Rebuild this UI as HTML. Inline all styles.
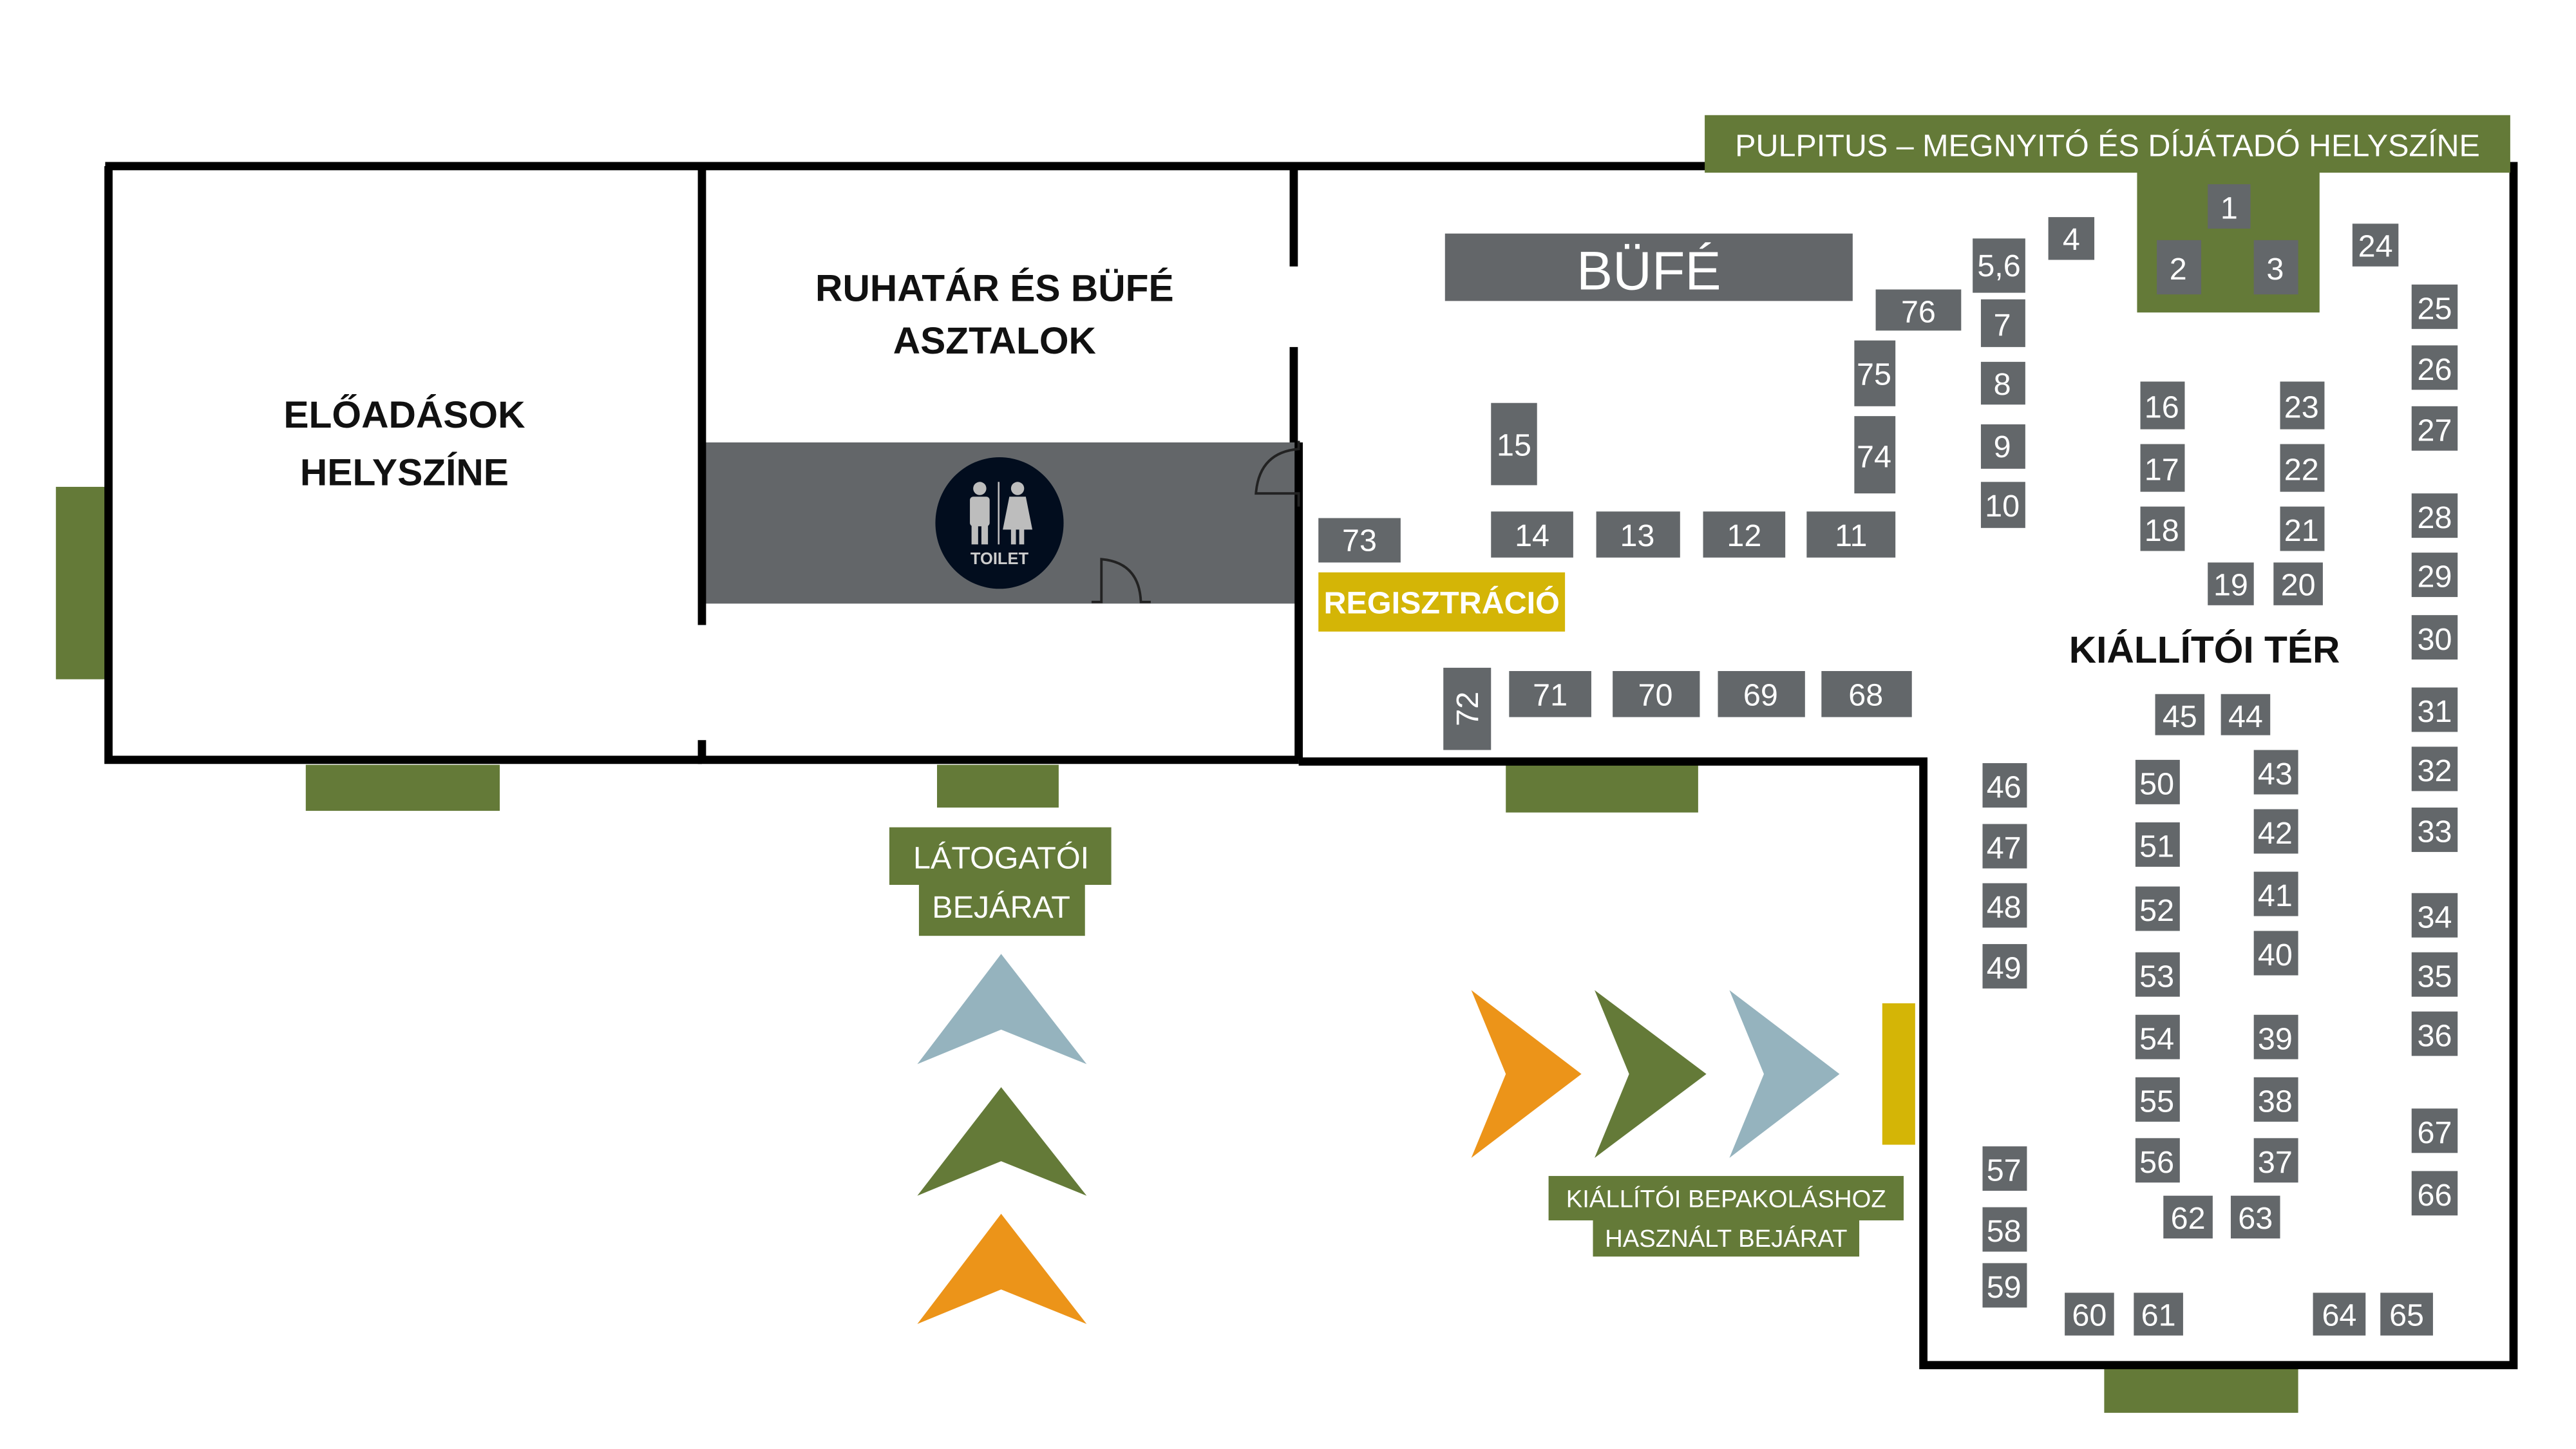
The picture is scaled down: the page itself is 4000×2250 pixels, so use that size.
<!DOCTYPE html>
<html><head><meta charset="utf-8"><style>
html,body{margin:0;padding:0;background:#fff;}
svg{display:block}
text{font-family:"Liberation Sans",sans-serif;}
</style></head><body>
<svg width="4000" height="2250" viewBox="0 0 1567 881" preserveAspectRatio="none" xmlns="http://www.w3.org/2000/svg">
<rect width="1567" height="881" fill="#fff"/>
<g fill="#647a38">
<rect x="34" y="296" width="30" height="117"/>
<rect x="186" y="465" width="118" height="28"/>
<rect x="570" y="465" width="74" height="26"/>
<rect x="916" y="465" width="117" height="29"/>
<rect x="1280" y="832" width="118" height="27"/>
</g>
<rect x="1145" y="610" width="20" height="86" fill="#d4b506"/>
<rect x="428" y="269" width="362" height="98" fill="#636669"/>
<g stroke="#000" stroke-width="5" fill="none">
<path d="M64 101 H1529 V830 H1170 V463 H790"/>
<path d="M66 101 V462 H427"/>
<path d="M427 101 V380 M427 450 V462 H790"/>
<path d="M787 101 V162 M787 211 V269 M790 269 V462"/>
</g>
<g stroke="#222" stroke-width="1.5" fill="none">
<path d="M790 268 V273 Q766 275 764 300 H790 V308"/>
<path d="M664 366 H670 V340 Q693 342 694 366 H700"/>
</g>
<ellipse cx="608" cy="318" rx="39" ry="40" fill="#020d1e"/>
<g fill="#bdbdbd">
<circle cx="596" cy="297" r="4"/>
<rect x="590" y="302" width="12" height="18" rx="2"/>
<rect x="591" y="318" width="4" height="13"/><rect x="597" y="318" width="4" height="13"/>
<circle cx="619" cy="297" r="4"/>
<path d="M614 302 H624 L628 322 H610 Z"/>
<rect x="615" y="321" width="3" height="10"/><rect x="620" y="321" width="3" height="10"/>
<rect x="607" y="293" width="1" height="38"/>
</g>
<text x="608" y="343" font-size="10" font-weight="bold" fill="#ccc" text-anchor="middle">TOILET</text>
<g font-weight="bold" font-size="23" text-anchor="middle" fill="#111">
<text x="246" y="260">ELŐADÁSOK</text>
<text x="246" y="295">HELYSZÍNE</text>
<text x="605" y="183">RUHATÁR ÉS BÜFÉ</text>
<text x="605" y="215">ASZTALOK</text>
<text x="1341" y="403">KIÁLLÍTÓI TÉR</text>
</g>
<rect x="1037" y="70" width="490" height="35" fill="#647a38"/>
<rect x="1300" y="104" width="111" height="86" fill="#647a38"/>
<text x="1282" y="95" font-size="19" fill="#fff" text-anchor="middle">PULPITUS – MEGNYITÓ ÉS DÍJÁTADÓ HELYSZÍNE</text>
<rect x="879" y="142" width="248" height="41" fill="#636669"/>
<text x="1003" y="176" font-size="33" fill="#fff" text-anchor="middle">BÜFÉ</text>
<rect x="802" y="348" width="150" height="36" fill="#d4b506"/>
<text x="877" y="373" font-size="19" font-weight="bold" fill="#fff" text-anchor="middle">REGISZTRÁCIÓ</text>
<g fill="#63676a">
<rect x="1343" y="112" width="26" height="27"/><rect x="1312" y="146" width="27" height="33"/><rect x="1371" y="146" width="27" height="33"/>
<rect x="1246" y="132" width="28" height="26"/><rect x="1200" y="145" width="32" height="33"/><rect x="1431" y="136" width="28" height="26"/>
<rect x="1141" y="176" width="52" height="25"/><rect x="1205" y="182" width="27" height="29"/><rect x="1205" y="220" width="27" height="26"/>
<rect x="1205" y="258" width="27" height="27"/><rect x="1205" y="293" width="27" height="28"/>
<rect x="1128" y="207" width="25" height="40"/><rect x="1128" y="253" width="25" height="47"/>
<rect x="907" y="245" width="28" height="50"/><rect x="907" y="311" width="50" height="28"/><rect x="971" y="311" width="51" height="28"/>
<rect x="1036" y="311" width="50" height="28"/><rect x="1099" y="311" width="54" height="28"/><rect x="802" y="315" width="50" height="27"/>
<rect x="878" y="406" width="29" height="50"/><rect x="918" y="408" width="50" height="28"/><rect x="981" y="408" width="53" height="28"/>
<rect x="1045" y="408" width="53" height="28"/><rect x="1108" y="408" width="55" height="28"/>
<rect x="1302" y="232" width="27" height="29"/><rect x="1302" y="270" width="27" height="29"/><rect x="1302" y="308" width="27" height="27"/>
<rect x="1387" y="232" width="27" height="29"/><rect x="1387" y="270" width="27" height="29"/><rect x="1387" y="308" width="27" height="27"/>
<rect x="1343" y="342" width="28" height="26"/><rect x="1383" y="342" width="30" height="26"/>
<rect x="1467" y="173" width="28" height="27"/><rect x="1467" y="210" width="28" height="27"/><rect x="1467" y="247" width="28" height="27"/>
<rect x="1467" y="300" width="28" height="27"/><rect x="1467" y="336" width="28" height="27"/><rect x="1467" y="374" width="28" height="27"/>
<rect x="1467" y="418" width="28" height="27"/><rect x="1467" y="454" width="28" height="27"/><rect x="1467" y="491" width="28" height="27"/>
<rect x="1467" y="543" width="28" height="27"/><rect x="1467" y="579" width="28" height="27"/><rect x="1467" y="615" width="28" height="27"/>
<rect x="1467" y="674" width="28" height="27"/><rect x="1467" y="712" width="28" height="27"/>
<rect x="1311" y="422" width="30" height="25"/><rect x="1351" y="422" width="30" height="25"/>
<rect x="1206" y="464" width="27" height="27"/><rect x="1206" y="501" width="27" height="27"/><rect x="1206" y="537" width="27" height="27"/><rect x="1206" y="574" width="27" height="27"/>
<rect x="1299" y="462" width="27" height="27"/><rect x="1299" y="500" width="27" height="27"/><rect x="1299" y="539" width="27" height="27"/><rect x="1299" y="579" width="27" height="27"/>
<rect x="1299" y="617" width="27" height="27"/><rect x="1299" y="655" width="27" height="27"/><rect x="1299" y="692" width="27" height="27"/>
<rect x="1371" y="456" width="27" height="27"/><rect x="1371" y="492" width="27" height="27"/><rect x="1371" y="530" width="27" height="27"/><rect x="1371" y="566" width="27" height="27"/>
<rect x="1371" y="617" width="27" height="27"/><rect x="1371" y="655" width="27" height="27"/><rect x="1371" y="692" width="27" height="27"/>
<rect x="1206" y="697" width="27" height="27"/><rect x="1206" y="734" width="27" height="27"/><rect x="1206" y="768" width="27" height="27"/>
<rect x="1316" y="727" width="30" height="26"/><rect x="1357" y="727" width="30" height="26"/>
<rect x="1256" y="786" width="30" height="26"/><rect x="1298" y="786" width="30" height="26"/><rect x="1407" y="786" width="32" height="26"/><rect x="1448" y="786" width="32" height="26"/>
</g>
<g font-size="19" fill="#fff" text-anchor="middle">
<text x="1356" y="133">1</text><text x="1325" y="170">2</text><text x="1384" y="170">3</text>
<text x="1260" y="152">4</text><text x="1216" y="168">5,6</text><text x="1445" y="156">24</text>
<text x="1167" y="196">76</text><text x="1218" y="204">7</text><text x="1218" y="240">8</text>
<text x="1218" y="278">9</text><text x="1218" y="314">10</text>
<text x="1140" y="234">75</text><text x="1140" y="284">74</text>
<text x="921" y="277">15</text><text x="932" y="332">14</text><text x="996" y="332">13</text>
<text x="1061" y="332">12</text><text x="1126" y="332">11</text><text x="827" y="335">73</text>
<text transform="translate(899 431) rotate(-90)">72</text>
<text x="943" y="429">71</text><text x="1007" y="429">70</text><text x="1071" y="429">69</text><text x="1135" y="429">68</text>
<text x="1315" y="254">16</text><text x="1315" y="292">17</text><text x="1315" y="329">18</text>
<text x="1400" y="254">23</text><text x="1400" y="292">22</text><text x="1400" y="329">21</text>
<text x="1357" y="362">19</text><text x="1398" y="362">20</text>
<text x="1481" y="194">25</text><text x="1481" y="231">26</text><text x="1481" y="268">27</text>
<text x="1481" y="321">28</text><text x="1481" y="357">29</text><text x="1481" y="395">30</text>
<text x="1481" y="439">31</text><text x="1481" y="475">32</text><text x="1481" y="512">33</text>
<text x="1481" y="564">34</text><text x="1481" y="600">35</text><text x="1481" y="636">36</text>
<text x="1481" y="695">67</text><text x="1481" y="733">66</text>
<text x="1326" y="442">45</text><text x="1366" y="442">44</text>
<text x="1219" y="485">46</text><text x="1219" y="522">47</text><text x="1219" y="558">48</text><text x="1219" y="595">49</text>
<text x="1312" y="483">50</text><text x="1312" y="521">51</text><text x="1312" y="560">52</text><text x="1312" y="600">53</text>
<text x="1312" y="638">54</text><text x="1312" y="676">55</text><text x="1312" y="713">56</text>
<text x="1384" y="477">43</text><text x="1384" y="513">42</text><text x="1384" y="551">41</text><text x="1384" y="587">40</text>
<text x="1384" y="638">39</text><text x="1384" y="676">38</text><text x="1384" y="713">37</text>
<text x="1219" y="718">57</text><text x="1219" y="755">58</text><text x="1219" y="789">59</text>
<text x="1331" y="747">62</text><text x="1372" y="747">63</text>
<text x="1271" y="806">60</text><text x="1313" y="806">61</text><text x="1423" y="806">64</text><text x="1464" y="806">65</text>
</g>
<g fill="#647a38">
<rect x="541" y="503" width="135" height="35"/><rect x="559" y="537" width="101" height="32"/>
<rect x="942" y="715" width="216" height="27"/><rect x="969" y="741" width="162" height="23"/>
</g>
<g fill="#fff" text-anchor="middle">
<text x="609" y="528" font-size="19">LÁTOGATÓI</text>
<text x="609" y="558" font-size="19">BEJÁRAT</text>
<text x="1050" y="734" font-size="15">KIÁLLÍTÓI BEPAKOLÁSHOZ</text>
<text x="1050" y="758" font-size="15">HASZNÁLT BEJÁRAT</text>
</g>
<polygon points="609,580 661,647 609,626 558,647" fill="#95b3be"/>
<polygon points="609,661 661,727 609,706 558,727" fill="#647a38"/>
<polygon points="609,738 661,805 609,784 558,805" fill="#ec9419"/>
<polygon points="895,602 962,653 895,704 916,653" fill="#ec9419"/>
<polygon points="970,602 1038,653 970,704 991,653" fill="#647a38"/>
<polygon points="1052,602 1119,653 1052,704 1073,653" fill="#95b3be"/>
</svg>
</body></html>
